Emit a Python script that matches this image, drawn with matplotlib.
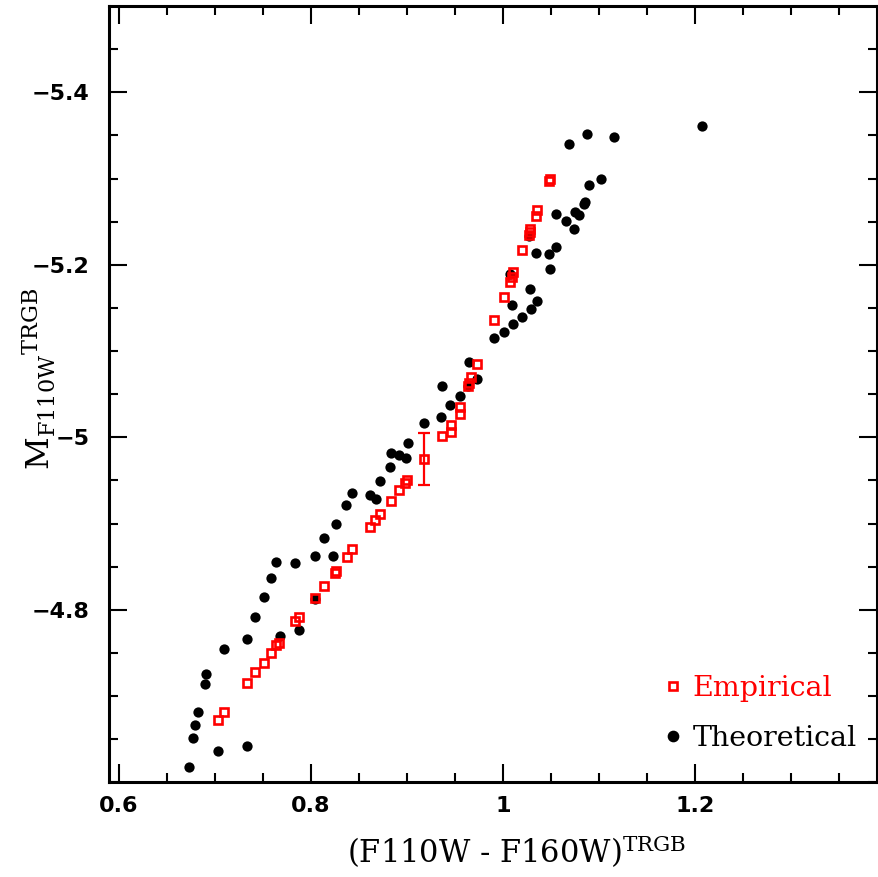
import matplotlib
matplotlib.use('Agg')
import matplotlib.pyplot as plt
from matplotlib.lines import Line2D
import numpy as np

# Theoretical TRGB points: colour, absolute magnitude
theo_color = [1.207, 1.088, 1.116, 1.069, 1.102, 1.090, 1.086, 1.084, 1.055, 1.075,
              1.079, 1.066, 1.074, 1.027, 1.055, 1.034, 1.048, 1.049, 1.007, 1.028,
              1.036, 1.009, 1.029, 1.020, 1.011, 1.001, 0.991, 0.965, 0.973, 0.964,
              0.937, 0.955, 0.945, 0.936, 0.918, 0.901, 0.884, 0.892, 0.899, 0.883,
              0.872, 0.843, 0.862, 0.868, 0.837, 0.826, 0.814, 0.804, 0.823, 0.764,
              0.784, 0.759, 0.751, 0.804, 0.742, 0.788, 0.768, 0.734, 0.710, 0.691,
              0.690, 0.683, 0.680, 0.677, 0.703, 0.734, 0.673]
theo_mag = [-5.361, -5.352, -5.348, -5.340, -5.300, -5.293, -5.273, -5.270, -5.259, -5.261,
            -5.258, -5.251, -5.241, -5.233, -5.221, -5.214, -5.212, -5.195, -5.189, -5.172,
            -5.158, -5.153, -5.149, -5.140, -5.131, -5.122, -5.115, -5.087, -5.067, -5.059,
            -5.060, -5.048, -5.037, -5.024, -5.017, -4.993, -4.982, -4.979, -4.976, -4.965,
            -4.949, -4.935, -4.933, -4.929, -4.922, -4.900, -4.883, -4.862, -4.862, -4.855,
            -4.854, -4.837, -4.815, -4.812, -4.792, -4.777, -4.770, -4.766, -4.755, -4.725,
            -4.714, -4.681, -4.667, -4.651, -4.636, -4.642, -4.618]

# Empirical TRGB points
emp_color = [1.048, 1.049, 1.036, 1.034, 1.028, 1.028, 1.027, 1.020, 1.011, 1.009,
             1.007, 1.001, 0.991, 0.973, 0.967, 0.965, 0.964, 0.955, 0.955, 0.946,
             0.946, 0.937, 0.918, 0.900, 0.898, 0.892, 0.884, 0.872, 0.867, 0.862,
             0.843, 0.838, 0.825, 0.826, 0.814, 0.804, 0.788, 0.784, 0.767, 0.764,
             0.759, 0.751, 0.742, 0.734, 0.710, 0.703]
emp_mag = [-5.297, -5.299, -5.263, -5.256, -5.242, -5.238, -5.235, -5.217, -5.192, -5.186,
           -5.180, -5.163, -5.136, -5.085, -5.070, -5.063, -5.060, -5.035, -5.027, -5.014,
           -5.006, -5.001, -4.975, -4.951, -4.947, -4.939, -4.926, -4.911, -4.904, -4.896,
           -4.870, -4.861, -4.843, -4.845, -4.828, -4.814, -4.792, -4.787, -4.762, -4.759,
           -4.750, -4.738, -4.728, -4.715, -4.681, -4.672]

# typical error bar
err_color = [0.918]
err_mag = [-4.975]
err_size = [0.030]

xticks = [0.6, 0.8, 1.0, 1.2]
xticklabels = ['0.6', '0.8', '1', '1.2']
yticks = [-5.4, -5.2, -5.0, -4.8]
yticklabels = ['\u22125.4', '\u22125.2', '\u22125', '\u22124.8']

plt.rcParams['mathtext.fontset'] = 'dejavuserif'

fig = plt.figure(figsize=(8.79, 8.77), dpi=100)
ax = fig.add_axes([109 / 879, 1 - 782.3 / 877, 768.5 / 879, 776.3 / 877])

ax.plot(theo_color, theo_mag, 'o', color='black', markersize=7.4, markeredgewidth=0, zorder=2)
ax.plot(emp_color, emp_mag, 's', markerfacecolor='none', markeredgecolor='red',
        markersize=5.8, markeredgewidth=1.9, zorder=3)
ax.errorbar(err_color, err_mag, yerr=err_size, fmt='none', ecolor='red',
            elinewidth=1.6, capsize=4, capthick=1.6, zorder=3)

ax.set_xlim(0.59, 1.39)
ax.set_ylim(-4.6, -5.5)

ax.set_xticks(xticks)
ax.set_xticklabels(xticklabels)
ax.set_yticks(yticks)
ax.set_yticklabels(yticklabels)
ax.set_xticks(np.arange(0.6, 1.39, 0.05), minor=True)
ax.set_yticks(np.arange(-5.45, -4.6, 0.05), minor=True)

ax.tick_params(which='both', direction='in', top=True, right=True, width=1.5)
ax.tick_params(which='major', length=13)
ax.tick_params(which='minor', length=6.5)
ax.tick_params(axis='x', which='major', pad=10)
ax.tick_params(axis='y', which='major', pad=14)
for lab in ax.get_xticklabels() + ax.get_yticklabels():
    lab.set_fontsize(16)
    lab.set_fontweight('bold')
for sp in ax.spines.values():
    sp.set_linewidth(2.2)

ax.set_xlabel('(F110W - F160W)$^{\\mathrm{TRGB}}$', fontsize=22, family='DejaVu Serif')
ax.xaxis.set_label_coords(0.53, -0.066)
ax.set_ylabel('$\\mathrm{M}_{\\mathrm{F110W}}{}^{\\mathrm{TRGB}}$', fontsize=23, family='DejaVu Serif')
ax.yaxis.set_label_coords(-0.066, 0.52)

handles = [Line2D([], [], ls='none', marker='s', markerfacecolor='none', markeredgecolor='red',
                  markersize=5.8, markeredgewidth=1.9),
           Line2D([], [], ls='none', marker='o', color='black', markersize=7.4)]
leg = ax.legend(handles, ['Empirical', 'Theoretical'], loc='lower right',
                bbox_to_anchor=(0.973, 0.039), frameon=False, handlelength=0.8,
                handletextpad=0.3, labelspacing=0.8, borderpad=0, borderaxespad=0,
                prop={'family': 'DejaVu Serif', 'size': 20.5})
leg.get_texts()[0].set_color('red')

fig.savefig('out.png', dpi=100)
